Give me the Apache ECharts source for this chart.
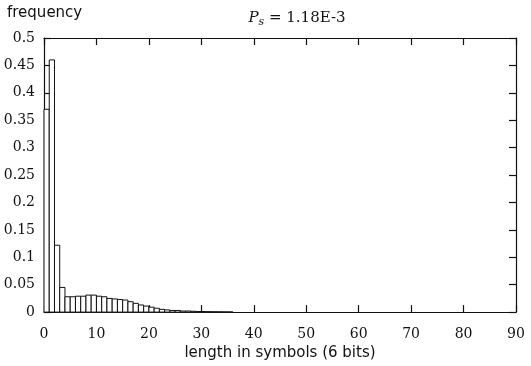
<!DOCTYPE html>
<html>
<head>
<meta charset="utf-8">
<script src="https://cdn.jsdelivr.net/npm/echarts@6/dist/echarts.min.js"></script>
<style>html,body{margin:0;padding:0;background:#fff}#c{width:531px;height:366px}</style>
</head>
<body>
<div id="c"></div>
<script>
// bin left edges (width 1 symbol) and frequencies
var binStarts = [0,1,2,3,4,5,6,7,8,9,10,11,12,13,14,15,16,17,18,19,20,21,22,23,24,25,26,27,28,29,30,31,32,33,34,35];
var frequencies = [0.37,0.46,0.122,0.045,0.028,0.028,0.029,0.029,0.031,0.031,0.029,0.028,0.025,0.024,0.023,0.022,0.019,0.016,0.013,0.011,0.009,0.007,0.005,0.004,0.003,0.003,0.002,0.002,0.0015,0.001,0.001,0.0008,0.0006,0.0005,0.0004,0.0003];
var xTicks = [0,10,20,30,40,50,60,70,80,90];
var yTicks = [0,0.05,0.1,0.15,0.2,0.25,0.3,0.35,0.4,0.45,0.5];

var data = binStarts.map(function(s,i){return [s, s+1, frequencies[i]];});
var serif = '"DejaVu Serif", "Liberation Serif", serif';
var sans = '"DejaVu Sans", "Liberation Sans", sans-serif';
var chart = echarts.init(document.getElementById('c'), null, {renderer:'canvas'});
var axisLine = {show:true, onZero:false, lineStyle:{color:'#111', width:1.2}};
var tickIn = {show:true, inside:true, length:7, lineStyle:{color:'#111', width:1.2}};
chart.setOption({
  animation:false,
  backgroundColor:'#fff',
  title:{
    text:'{p|P}{s|s}{n| = 1.18E-3}',
    left:292, top:4, textAlign:'center',
    textStyle:{fontWeight:'normal', rich:{
      p:{fontFamily:serif, fontStyle:'italic', fontWeight:'normal', fontSize:15, color:'#111'},
      s:{fontFamily:serif, fontStyle:'italic', fontWeight:'normal', fontSize:11, color:'#111', verticalAlign:'bottom', padding:[8,0,0,0]},
      n:{fontFamily:serif, fontWeight:'normal', fontSize:15, color:'#111'}
    }}
  },
  graphic:[{type:'text', left:7, top:6, style:{text:'frequency', font:'15px '+sans, fill:'#111'}}],
  grid:{left:44, right:15, top:38, bottom:53},
  xAxis:[{
    type:'value', min:0, max:90, interval:10, position:'bottom',
    axisLine:axisLine, axisTick:tickIn, splitLine:{show:false},
    axisLabel:{fontFamily:serif, fontSize:14, color:'#111', margin:15,
      formatter:function(v){return xTicks.indexOf(v)>=0 ? String(v) : '';}},
    name:'length in symbols (6 bits)', nameLocation:'middle', nameGap:33,
    nameTextStyle:{fontFamily:sans, fontSize:15, color:'#111'}
  },{
    type:'value', min:0, max:90, interval:10, position:'top',
    axisLine:axisLine, axisTick:tickIn, axisLabel:{show:false}, splitLine:{show:false}
  }],
  yAxis:[{
    type:'value', min:0, max:0.5, interval:0.05, position:'left',
    axisLine:axisLine, axisTick:tickIn, splitLine:{show:false},
    axisLabel:{fontFamily:serif, fontSize:14, color:'#111', margin:9,
      formatter:function(v){var r=Math.round(v*100)/100; return yTicks.indexOf(r)>=0 ? String(r) : '';}}
  },{
    type:'value', min:0, max:0.5, interval:0.05, position:'right',
    axisLine:axisLine, axisTick:tickIn, axisLabel:{show:false}, splitLine:{show:false}
  }],
  series:[{
    type:'custom', xAxisIndex:0, yAxisIndex:0,
    data:data,
    encode:{x:[0,1], y:2},
    renderItem:function(params, api){
      var p0 = api.coord([api.value(0), 0]);
      var p1 = api.coord([api.value(1), api.value(2)]);
      return {type:'rect', shape:{x:p0[0], y:p1[1], width:p1[0]-p0[0], height:p0[1]-p1[1]},
        style:{fill:'#fff', stroke:'#111', lineWidth:1}};
    }
  }]
});
</script>
</body>
</html>
